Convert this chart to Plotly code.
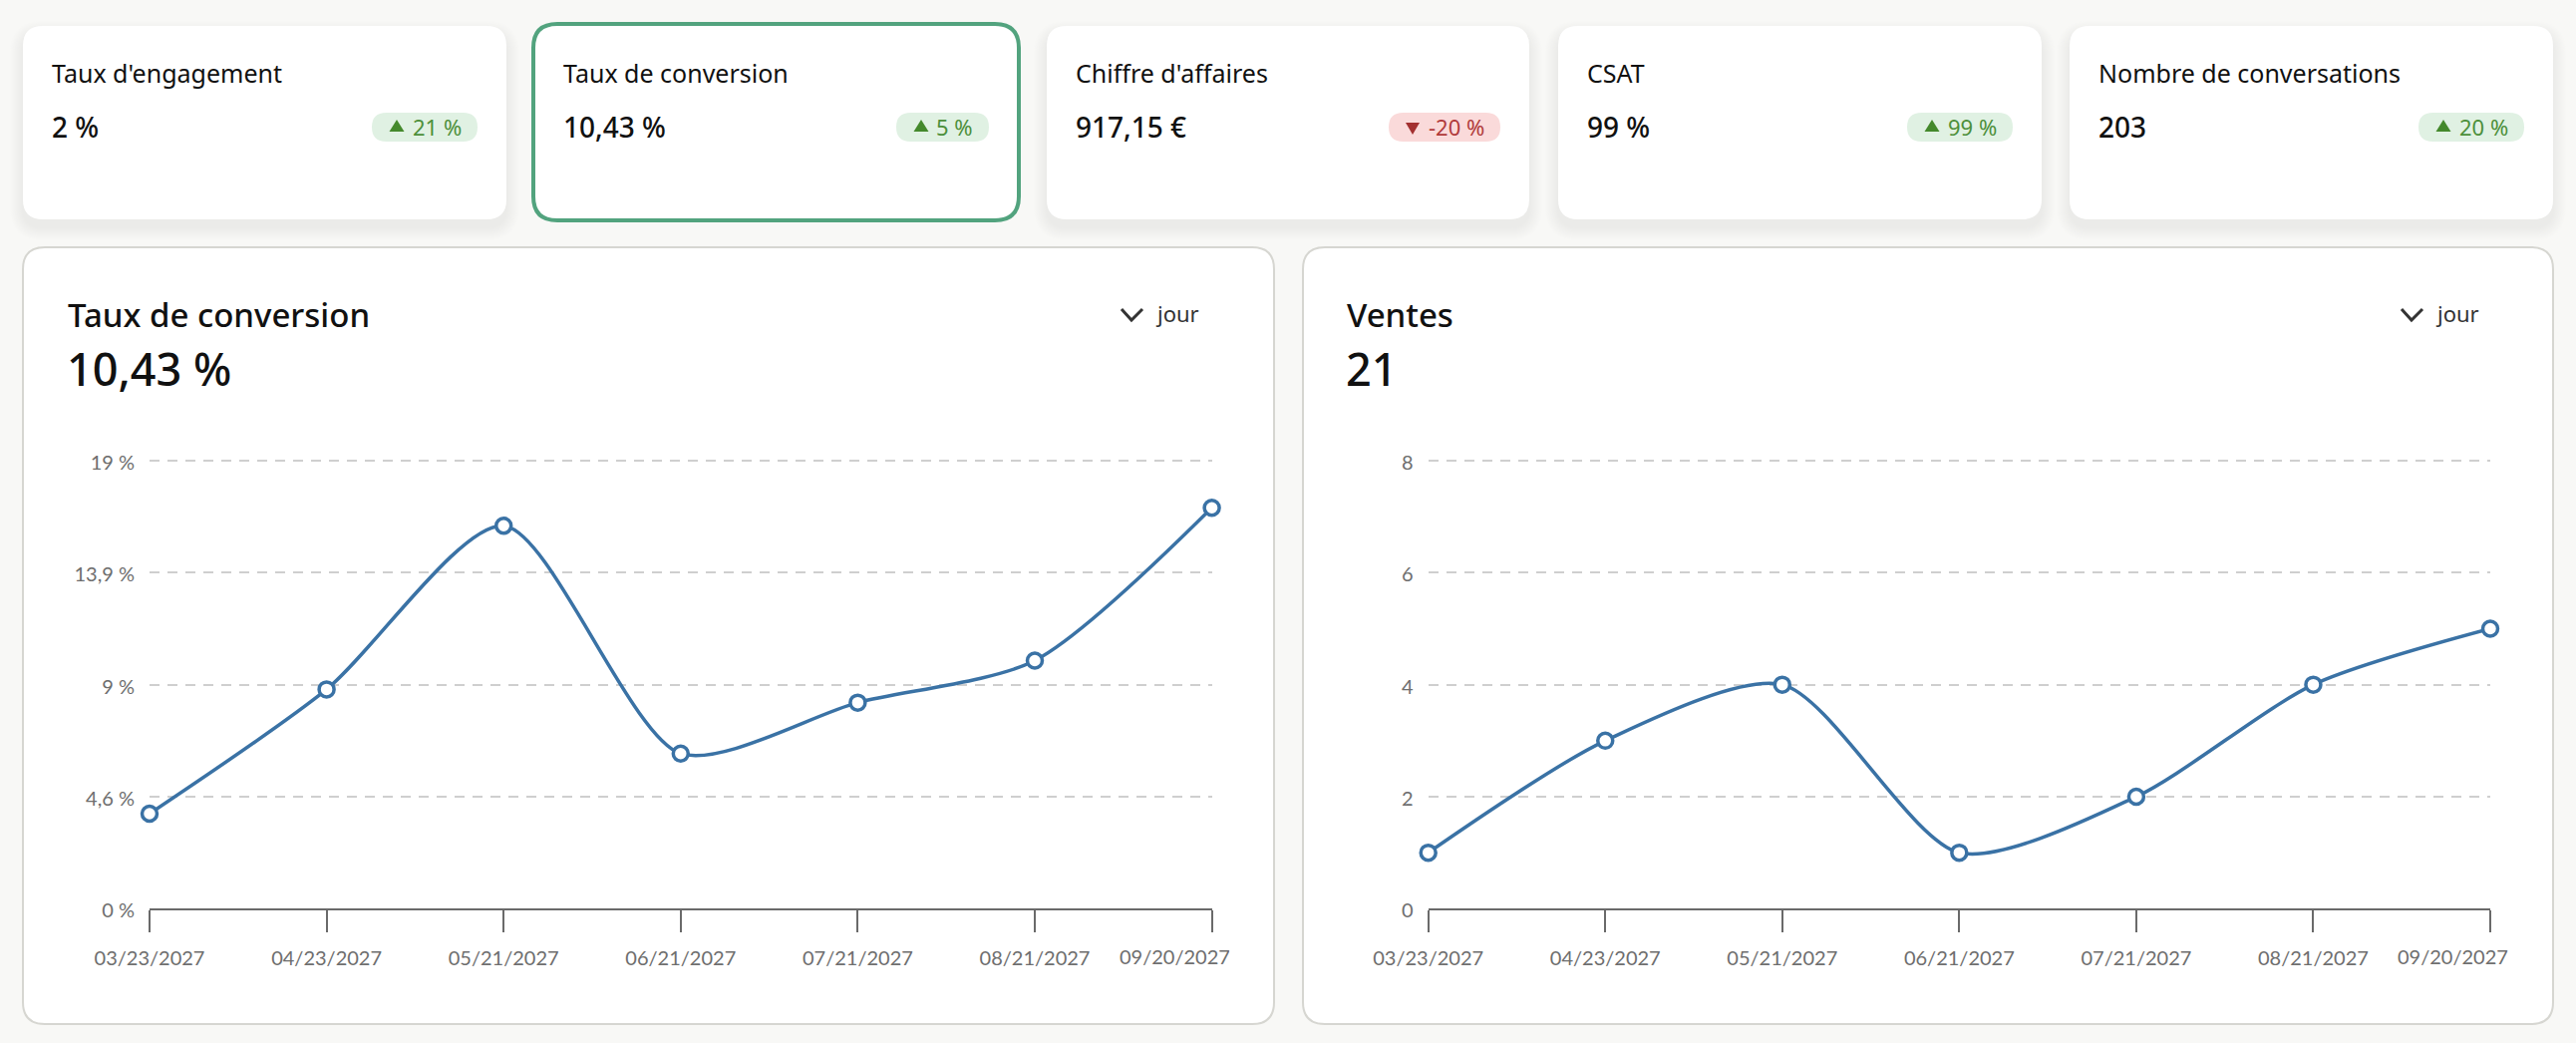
import plotly.graph_objects as go

W, H = 2584, 1046

# kpi cards
kpi_labels = ["Taux d'engagement", "Taux de conversion", "Chiffre d'affaires", "CSAT", "Nombre de conversations"]
kpi_values = ["2 %", "10,43 %", "917,15 €", "99 %", "203"]
kpi_deltas = ["21 %", "5 %", "-20 %", "99 %", "20 %"]

# charts
dates = ["03/23/2027", "04/23/2027", "05/21/2027", "06/21/2027", "07/21/2027", "08/21/2027", "09/20/2027"]
conversion = [4.03, 9.3, 16.24, 6.58, 8.74, 10.52, 17.0]
ventes = [1, 3, 4, 1, 2, 4, 5]
conv_ticks = [0, 4.75, 9.5, 14.25, 19]
conv_ticktext = ["0 %", "4,6 %", "9 %", "13,9 %", "19 %"]
ventes_ticks = [0, 2, 4, 6, 8]
ventes_ticktext = ["0", "2", "4", "6", "8"]

# pixel layout, from the screenshot
card_x = [(23, 508), (533, 1024), (1050, 1534), (1563, 2048), (2076, 2561)]
label_x = [50, 563, 1077, 1590, 2103]
pill_x = [(373, 479), (899, 992), (1393, 1505), (1913, 2019), (2426, 2532)]
panel_x = [(23, 1278), (1307, 2561)]
plot_x = [(150, 1215.6), (1432.7, 2498)]
title_x = [66, 1349]
chevron_x = [1125, 2409]
jour_x = [1157, 2441]

SANS = "Noto Sans"
AXIS_FONT = "Lato"
BLUE = "#3A72A5"
GREY = "#6A6A6A"
AXIS_TEXT = "#6E6E6E"


def fx(x):
    return x / W


def fy(y):
    return 1 - y / H


def rounded(x0, y0, x1, y1, r):
    # rounded rectangle as an svg path, in paper coordinates
    pts = [
        f"M {fx(x0 + r)} {fy(y0)}",
        f"L {fx(x1 - r)} {fy(y0)}",
        f"Q {fx(x1)} {fy(y0)} {fx(x1)} {fy(y0 + r)}",
        f"L {fx(x1)} {fy(y1 - r)}",
        f"Q {fx(x1)} {fy(y1)} {fx(x1 - r)} {fy(y1)}",
        f"L {fx(x0 + r)} {fy(y1)}",
        f"Q {fx(x0)} {fy(y1)} {fx(x0)} {fy(y1 - r)}",
        f"L {fx(x0)} {fy(y0 + r)}",
        f"Q {fx(x0)} {fy(y0)} {fx(x0 + r)} {fy(y0)}",
        "Z",
    ]
    return " ".join(pts)


def box(x0, y0, x1, y1, r, fill, line=None, width=0):
    return dict(type="path", xref="paper", yref="paper", layer="below", path=rounded(x0, y0, x1, y1, r),
                fillcolor=fill, line=dict(color=line or fill, width=width))


def poly(points, fill=None, line=None, width=0):
    path = "M " + " L ".join(f"{fx(x)} {fy(y)}" for x, y in points)
    if fill:
        path += " Z"
    return dict(type="path", xref="paper", yref="paper", layer="above", path=path,
                fillcolor=fill or "rgba(0,0,0,0)", line=dict(color=line or "rgba(0,0,0,0)", width=width))


def label(x, y, text, size, color="#111111", weight=400, family=SANS, anchor="left"):
    return dict(xref="paper", yref="paper", x=fx(x), y=fy(y), text=text, showarrow=False, xanchor=anchor,
                yanchor="middle", align=anchor, font=dict(family=family, size=size, color=color, weight=weight))


shapes = []
annotations = []

# cards
for i, (x0, x1) in enumerate(card_x):
    if i == 1:
        shapes.append(box(x0 + 2, 24, x1 - 2, 221, 24, "#FFFFFF", "#52A37E", 4))
    else:
        # soft shadow under the card, opaque steps from page colour towards the card edge
        for grow in range(14, 0, -1):
            g = 248 - (14 - grow)
            shapes.append(box(x0 - grow, 26 - grow + 8, x1 + grow, 220 + grow + 8, 20 + grow, f"rgb({g},{g},{g - 2})"))
        shapes.append(box(x0, 26, x1, 220, 20, "#FFFFFF"))
    annotations.append(label(label_x[i], 73, kpi_labels[i], 25))
    annotations.append(label(label_x[i], 127, kpi_values[i], 28, weight=500))

    px0, px1 = pill_x[i]
    down = kpi_deltas[i].startswith("-")
    shapes.append(box(px0, 113, px1, 142, 14.5, "#FADADA" if down else "#E0F1E3"))
    if down:
        shapes.append(poly([(px0 + 17, 123), (px0 + 31, 123), (px0 + 24, 135)], fill="#A33030"))
    else:
        shapes.append(poly([(px0 + 17.5, 132), (px0 + 32.5, 132), (px0 + 25, 120)], fill="#44892C"))
    annotations.append(label(px1 - 14, 127, kpi_deltas[i], 22, color="#B03A3A" if down else "#4C8F3A", anchor="right"))

# chart panels
panels = [
    ("Taux de conversion", "10,43 %", conversion, conv_ticks, conv_ticktext),
    ("Ventes", "21", ventes, ventes_ticks, ventes_ticktext),
]

fig = go.Figure()

for i, (title, value, series, ticks, ticktext) in enumerate(panels):
    x0, x1 = panel_x[i]
    shapes.append(box(x0, 248, x1, 1027, 22, "#FFFFFF", "#D6D6D1", 2))
    annotations.append(label(title_x[i], 315, title, 33, weight=500))
    annotations.append(label(title_x[i] - 1, 370, value, 45, weight=500))
    cx = chevron_x[i]
    shapes.append(poly([(cx, 310), (cx + 10, 321), (cx + 21, 310)], line="#333333", width=3))
    annotations.append(label(jour_x[i], 314, "jour", 22, color="#333333"))

    n = "" if i == 0 else "2"
    fig.add_trace(go.Scatter(
        x=list(range(len(dates))), y=series, xaxis=f"x{n}", yaxis=f"y{n}",
        mode="lines+markers", cliponaxis=False,
        line=dict(color=BLUE, width=3.5, shape="spline", smoothing=0.75),
        marker=dict(size=15, color="#FFFFFF", line=dict(color=BLUE, width=3.5)),
    ))
    # the last date sits left of its tick so it gets its own label
    annotations.append(dict(xref=f"x{n}", yref="paper", x=len(dates) - 1, xshift=20, y=fy(959), text=dates[-1],
                            showarrow=False, xanchor="right", yanchor="middle",
                            font=dict(family=AXIS_FONT, size=20, color=AXIS_TEXT)))

    axis_x = dict(
        domain=[fx(plot_x[i][0]), fx(plot_x[i][1])], range=[0, len(dates) - 1],
        tickmode="array", tickvals=list(range(len(dates))), ticktext=dates[:-1] + [""],
        showgrid=False, zeroline=False, showline=True, linecolor=GREY, linewidth=2,
        ticks="outside", ticklen=22, tickwidth=1.5, tickcolor=GREY, ticklabelstandoff=9,
        tickfont=dict(family=AXIS_FONT, size=20, color=AXIS_TEXT), anchor=f"y{n}", fixedrange=True,
        automargin=False,
    )
    # a hair of extra range so the top gridline is not dropped at the axis end
    axis_y = dict(
        domain=[fy(911.3), fy(911.3 - 449.3 * 1.01)], range=[ticks[0], ticks[-1] * 1.01],
        tickmode="array", tickvals=ticks, ticktext=ticktext,
        showgrid=True, gridcolor="#CFCFCF", gridwidth=2, griddash="10px,8px",
        zeroline=False, showline=False, ticks="", ticklabelstandoff=14, ticklabelshift=2,
        tickfont=dict(family=AXIS_FONT, size=20, color=AXIS_TEXT), anchor=f"x{n}", fixedrange=True,
        automargin=False,
    )
    fig.update_layout({f"xaxis{n}": axis_x, f"yaxis{n}": axis_y})

# the left chart's svg cuts off the end of its last date
annotations.append(dict(xref="paper", yref="paper", x=fx(1233), y=fy(959), text=" ", showarrow=False,
                        xanchor="left", yanchor="middle", width=8, height=30, bgcolor="#FFFFFF"))

fig.update_layout(
    width=W, height=H, margin=dict(l=0, r=0, t=0, b=0),
    paper_bgcolor="#F8F8F6", plot_bgcolor="rgba(0,0,0,0)",
    showlegend=False, shapes=shapes, annotations=annotations,
)

fig.write_html("out.html", config=dict(displayModeBar=False),
               post_script="document.body.style.margin='0';document.body.style.overflow='hidden';")
